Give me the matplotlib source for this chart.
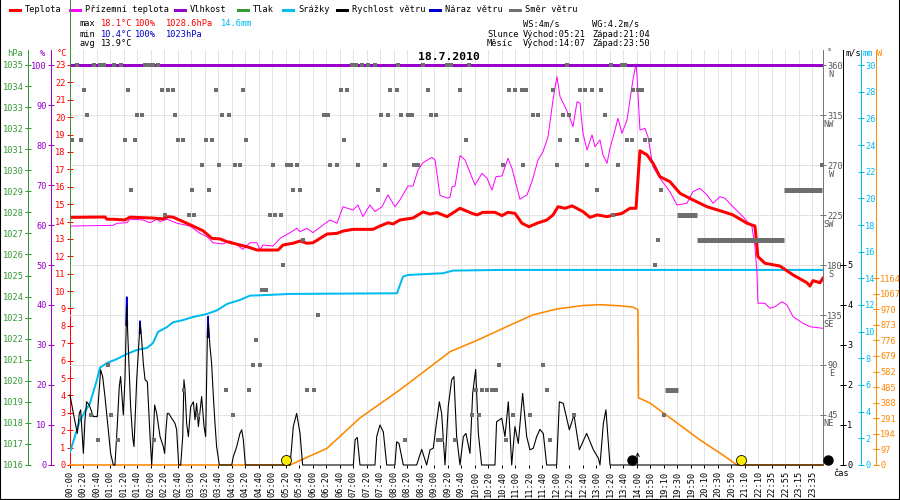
import matplotlib

matplotlib.use("Agg")
import matplotlib.pyplot as plt
from matplotlib import transforms
from matplotlib.lines import Line2D

plt.rcParams["font.family"] = ["DejaVu Sans Mono"]
plt.rcParams["font.size"] = 6.2

TEMP_RED = "#ff0000"
GROUND_MAGENTA = "#ff00ff"
HUMID_PURPLE = "#9900cc"
PRESS_GREEN = "#339933"
RAIN_CYAN = "#00bbee"
GUST_BLUE = "#0000cc"
DIR_GREY = "#6e6e6e"
SOLAR_ORANGE = "#ff8800"
GRID_GREY = "#e3e3e3"

# x is the position of a record on the (non linear) time axis, one unit per label
time_labels = [
    "00:00", "00:20", "00:40", "01:00", "01:20", "01:40", "02:00", "02:20",
    "02:40", "03:00", "03:20", "03:40", "04:00", "04:20", "04:40", "05:00",
    "05:20", "05:40", "06:00", "06:20", "06:40", "07:00", "07:20", "07:40",
    "08:00", "08:20", "08:40", "09:00", "09:20", "09:40", "10:00", "10:20",
    "10:40", "11:00", "11:20", "11:40", "12:00", "12:20", "12:40", "13:00",
    "13:20", "13:40", "14:00", "18:50", "19:10", "19:30", "19:50", "20:10",
    "20:30", "20:50", "21:10", "22:10", "22:35", "22:55", "23:15", "23:35",
]
x_end = 55.78

temp_times = [0.07, 2.59, 2.74, 3.19, 4.07, 4.44, 6.15, 6.89, 7.26, 7.63, 8.37, 9.11,
              9.85, 10.52, 11.11, 11.63, 12.59, 13.33, 13.85, 15.41, 15.78, 16.52,
              17.04, 17.56, 18.0, 19.04, 19.78, 20.22, 20.96, 22.44, 22.96, 23.56,
              23.93, 24.44, 25.41, 26.15, 26.67, 27.19, 27.93, 28.89, 29.78, 30.15,
              30.59, 31.48, 32.0, 32.44, 32.96, 33.48, 34.0, 34.59, 35.33, 35.78,
              36.15, 36.67, 37.19, 38.0, 38.52, 39.04, 39.78, 40.22, 40.89, 41.48,
              41.93, 42.07, 42.22, 42.74, 43.19, 43.7, 44.44, 45.19, 46.15, 47.19,
              48.37, 49.11, 50.15, 50.74, 50.96, 51.48, 52.59, 53.56, 54.59, 54.81,
              55.04, 55.56, 55.78]
temp_values = [14.24, 14.26, 14.13, 14.13, 14.09, 14.25, 14.2, 14.15, 14.28, 14.25, 14.0,
               13.74, 13.47, 13.03, 13.0, 12.84, 12.65, 12.5, 12.36, 12.36, 12.65, 12.75,
               12.88, 12.75, 12.78, 13.28, 13.32, 13.45, 13.55, 13.55, 13.74, 13.93,
               13.86, 14.09, 14.2, 14.55, 14.43, 14.51, 14.28, 14.76, 14.47, 14.38,
               14.53, 14.53, 14.34, 14.53, 14.47, 13.9, 13.7, 13.9, 14.09, 14.38,
               14.85, 14.76, 14.9, 14.57, 14.24, 14.38, 14.28, 14.36, 14.47, 14.76,
               14.76, 16.39, 18.07, 17.83, 17.35, 16.58, 16.29, 15.62, 15.24, 14.85,
               14.57, 14.38, 13.9, 13.74, 11.98, 11.6, 11.44, 10.93, 10.48, 10.29,
               10.6, 10.48, 10.75]

ground_times = [0.07, 3.19, 3.48, 4.22, 4.44, 5.41, 5.93, 6.44, 6.67, 7.19, 7.93, 8.89,
                9.63, 10.15, 10.59, 11.33, 11.85, 12.37, 12.81, 13.33, 13.85, 14.07,
                14.3, 15.04, 15.56, 16.3, 16.81, 17.04, 17.56, 18.0, 18.74, 19.26,
                19.78, 20.22, 20.96, 21.33, 21.7, 22.22, 22.59, 23.11, 23.56, 24.07,
                24.44, 25.04, 25.41, 25.78, 26.15, 26.81, 27.04, 27.41, 27.93, 28.15,
                28.3, 28.52, 28.89, 29.26, 30.0, 30.52, 30.89, 31.26, 31.56, 32.0,
                32.44, 32.74, 33.33, 33.85, 34.22, 34.67, 35.04, 35.41, 35.78, 36.07,
                36.3, 36.67, 37.04, 37.26, 37.56, 37.78, 38.0, 38.3, 38.67, 38.89,
                39.26, 39.48, 39.78, 40.0, 40.37, 40.59, 40.89, 41.26, 41.48, 41.7,
                41.93, 42.0, 42.22, 42.59, 42.81, 43.19, 43.7, 44.44, 44.96, 45.7,
                46.15, 46.67, 47.19, 47.63, 48.15, 48.52, 49.11, 49.85, 50.52, 50.74,
                50.89, 50.96, 51.48, 51.85, 52.22, 52.74, 53.11, 53.56, 54.3, 54.81,
                55.78]
ground_values = [13.74, 13.78, 13.9, 13.93, 14.13, 14.09, 13.93, 14.13, 14.0, 14.13,
                 13.9, 13.74, 13.32, 13.13, 12.78, 12.71, 12.88, 12.65, 12.4, 12.78,
                 12.78, 12.36, 12.65, 12.59, 13.03, 13.36, 13.61, 13.42, 13.61, 13.36,
                 13.8, 14.09, 13.9, 14.85, 14.66, 14.95, 14.28, 14.95, 14.57, 14.85,
                 15.53, 14.85, 15.24, 16.04, 16.04, 16.96, 17.38, 17.69, 17.54, 15.5,
                 15.35, 15.39, 16.0, 16.04, 17.79, 17.54, 16.1, 16.77, 16.49, 15.81,
                 16.58, 16.62, 17.64, 17.06, 15.28, 15.53, 16.29, 17.54, 18.02, 18.88,
                 20.99, 22.33, 21.18, 20.6, 19.94, 19.45, 20.89, 20.8, 19.07, 18.11,
                 18.98, 18.3, 18.69, 17.83, 17.35, 18.21, 19.26, 19.94, 19.07, 19.84,
                 20.99, 22.14, 23.06, 22.43, 19.26, 19.36, 18.88, 17.14, 16.49, 15.72,
                 14.95, 15.05, 15.72, 15.91, 15.53, 15.05, 15.43, 15.33, 14.85, 14.28,
                 13.7, 12.55, 11.02, 9.3, 9.3, 9.01, 9.1, 9.39, 9.2, 8.53, 8.15, 7.95,
                 7.86]

humidity_times = [0.0, x_end]
humidity_values = [100, 100]

# the pressure trace only shows as a vertical stroke on the first record
pressure_times = [0.0, 0.0]
pressure_values = [1023.5, 1038.1]

rain_times = [0.0, 0.74, 1.48, 2.0, 2.22, 2.74, 3.48, 4.22, 4.96, 5.7, 6.15, 6.52, 7.19,
              7.63, 8.37, 9.11, 10.15, 10.89, 11.63, 12.59, 13.33, 14.59, 16.3, 24.22,
              24.67, 25.04, 25.93, 27.63, 28.37, 31.85, x_end]
rain_mm = [0.97, 3.37, 4.63, 6.4, 7.3, 7.65, 7.95, 8.33, 8.63, 8.78, 9.15, 9.98, 10.35,
           10.7, 10.87, 11.1, 11.33, 11.6, 12.08, 12.38, 12.7, 12.75, 12.83, 12.88,
           14.13, 14.25, 14.3, 14.38, 14.58, 14.63, 14.63]

solar_times = [0.0, 16.3, 19.04, 21.48, 24.44, 28.15, 30.37, 32.37, 34.3, 36.07, 38.0,
               39.26, 40.74, 41.7, 42.07, 42.11, 42.96, 46.67, 48.37, 49.41, x_end]
solar_watts = [0, 0, 104, 293, 468, 705, 784, 862, 935, 971, 993, 998, 991, 983, 966,
               418, 386, 156, 62, 0, 0]

wind_times = [0.0, 0.25, 0.44, 0.54, 0.69, 0.79, 0.99, 1.11, 1.23, 1.43, 1.6, 1.73, 2.02,
              2.27, 2.42, 2.59, 2.84, 3.01, 3.21, 3.33, 3.51, 3.65, 3.75, 3.85, 3.95,
              4.07, 4.2, 4.35, 4.49, 4.64, 4.74, 4.84, 4.94, 5.09, 5.19, 5.31, 5.43,
              5.56, 5.73, 5.83, 5.93, 6.05, 6.17, 6.27, 6.42, 6.67, 6.91, 7.01, 7.11,
              7.21, 7.31, 7.53, 7.78, 7.9, 8.05, 8.2, 8.35, 8.44, 8.52, 8.64, 8.77,
              8.94, 9.14, 9.26, 9.38, 9.51, 9.75, 9.93, 10.05, 10.17, 10.25, 10.37,
              10.49, 10.62, 10.74, 10.86, 11.06, 11.98, 12.1, 12.35, 12.59, 12.72,
              12.84, 12.99, 16.3, 16.42, 16.54, 16.79, 17.04, 17.23, 20.99, 21.12,
              21.28, 21.48, 22.59, 22.72, 22.96, 23.21, 23.46, 24.07, 24.2, 24.37,
              24.69, 25.68, 26.05, 26.42, 26.67, 26.91, 27.11, 27.36, 27.53, 27.78,
              28.02, 28.27, 28.44, 28.64, 28.89, 29.14, 29.33, 29.63, 29.83, 30.05,
              30.25, 30.49, 31.48, 31.6, 31.98, 32.22, 32.47, 32.72, 32.96, 33.21,
              33.53, 33.83, 34.07, 34.32, 34.57, 34.81, 35.06, 35.31, 36.05, 36.25,
              36.54, 36.99, 37.33, 37.73, 38.27, 38.77, 39.14, 39.26, 39.51, 39.7,
              40.0, x_end]
wind_speeds = [1.75, 1.29, 0.96, 0.79, 1.29, 1.38, 0.29, 1.13, 1.58, 1.5, 1.33, 1.21,
               1.21, 2.38, 2.21, 1.71, 0.88, 0.29, 0.0, 0.0, 1.04, 1.96, 2.21, 1.71,
               1.25, 2.13, 3.96, 2.63, 1.46, 0.71, 0.46, 1.29, 2.13, 2.96, 3.54, 3.13,
               2.54, 2.13, 2.08, 1.38, 0.71, 0.0, 0.71, 1.5, 1.29, 0.71, 0.46, 0.29,
               0.88, 1.29, 1.29, 1.17, 1.04, 0.88, 0.0, 0.0, 0.71, 2.13, 1.88, 1.04,
               0.71, 1.46, 1.58, 1.13, 1.54, 0.96, 1.71, 0.96, 0.71, 3.13, 3.54, 2.96,
               2.54, 1.71, 1.04, 0.46, 0.0, 0.0, 0.21, 0.46, 0.79, 0.88, 0.63, 0.0,
               0.0, 0.46, 0.96, 1.29, 0.79, 0.0, 0.0, 0.63, 0.69, 0.0, 0.0, 0.71, 1.0,
               0.83, 0.0, 0.0, 0.58, 0.54, 0.0, 0.0, 0.39, 0.0, 0.38, 0.42, 0.96, 1.58,
               1.29, 0.0, 1.46, 2.13, 2.21, 0.71, 0.0, 0.71, 0.79, 0.29, 1.79, 2.39,
               0.79, 0.0, 0.0, 1.08, 1.17, 0.71, 1.58, 0.0, 0.96, 0.54, 1.79, 0.71,
               0.38, 0.42, 0.71, 0.89, 0.79, 0.0, 0.0, 1.58, 1.54, 0.88, 1.25, 0.38,
               0.79, 0.38, 0.17, 0.0, 1.04, 1.38, 0.0, 0.0]

nan = float("nan")
gust_times = [4.15, 4.2, 4.25, nan, 5.15, 5.19, 5.24, nan, 10.18, 10.23, 10.28]
gust_speeds = [3.5, 4.2, 3.5, nan, 3.3, 3.6, 3.3, nan, 3.2, 3.71, 3.2]

direction_levels = [360, 337.5, 315, 292.5, 270, 247.5, 225, 202.5, 180, 157.5, 135,
                    112.5, 90, 67.5, 45, 22.5]
direction_samples = [
    [0.5, 1.78, 2.22, 2.52, 3.26, 3.78, 5.56, 5.85, 6.15, 6.52, 20.89, 21.19, 21.63,
     22.07, 22.59, 24.3, 26.15, 27.93, 28.22, 29.56, 36.81, 40.07, 40.89, 41.11],
    [1.04, 4.3, 6.81, 7.26, 7.63, 10.81, 12.81, 20.07, 20.52, 23.7, 24.22, 26.52, 28.89,
     32.52, 32.96, 33.48, 33.78, 35.78, 37.78, 38.15, 38.67, 39.33, 41.7, 42.07, 42.37],
    [1.26, 4.96, 5.33, 7.78, 11.26, 11.78, 18.81, 19.11, 23.04, 23.56, 24.52, 25.04,
     25.33, 26.74, 27.11, 34.3, 34.67, 36.52, 36.96, 39.63],
    [0.12, 0.81, 4.07, 4.81, 8.0, 8.37, 10.05, 10.52, 13.04, 20.3, 29.33, 36.3, 37.56,
     41.26, 41.63, 42.59, 42.96],
    [9.78, 11.04, 12.22, 12.59, 15.04, 16.07, 16.37, 16.81, 19.26, 19.78, 21.33, 23.33,
     25.48, 25.78, 32.07, 33.56, 36.07, 38.3, 40.59, 55.7],
    [4.52, 9.04, 10.3, 16.52, 17.04, 22.81, 39.04, 43.78],
    [7.04, 8.81, 9.2, 14.81, 15.19, 15.63, 40.22],
    [17.24, 43.56],
    [15.75, 43.33],
    [14.22, 14.52],
    [18.37],
    [13.78],
    [2.81, 13.56, 14.07, 31.78, 35.04],
    [8.44, 11.56, 13.26, 17.56, 18.1, 30.07, 30.52, 30.89, 31.26, 31.56, 35.31],
    [1.56, 3.04, 9.48, 12.07, 29.75, 30.3, 32.79, 34.07, 37.33, 44.0],
    [2.07, 3.56, 6.22, 24.81, 27.26, 27.56, 28.52, 32.3, 35.56],
]
# stretches where the vane did not move
direction_run_starts = [44.07, 45.0, 46.44, 52.89]
direction_run_ends = [45.04, 46.44, 52.89, 55.7]
direction_run_degrees = [67.5, 225, 202.5, 247.5]

compass_names = {45: "NE", 90: "E", 135: "SE", 180: "S", 225: "SW", 270: "W",
                 315: "NW", 360: "N"}

sun_events = [16.0, 49.7]
moon_events = [41.6, 56.15]
moonrise_arrow = 42.05

# plot frame: 900x500 px, data area from y=50 to y=465, scale tops at y=65
W_PX, H_PX = 900, 500
STRETCH = 415 / 400


def px(x, y):
    return x / W_PX, 1 - y / H_PX


def pt(pixels):
    return pixels * 0.72


fig = plt.figure(figsize=(9, 5), dpi=100)
fig.patch.set_facecolor("white")

ax = fig.add_axes([70 / W_PX, 35 / H_PX, 753 / W_PX, 415 / H_PX])
ax.set_zorder(0)
ax.set_xlim(0, x_end)
ax.set_ylim(0, 23 * STRETCH)
for side in ("top", "right", "bottom"):
    ax.spines[side].set_visible(False)
ax.spines["left"].set_color(TEMP_RED)
ax.spines["left"].set_linewidth(pt(1))
ax.set_yticks(range(0, 24))
ax.tick_params(axis="y", colors=TEMP_RED, direction="inout", length=pt(6),
               width=pt(1), pad=1)
ax.set_xticks(range(len(time_labels)))
ax.set_xticklabels(time_labels, rotation=90)
ax.tick_params(axis="x", direction="out", length=pt(3), width=pt(1), pad=2)
ax.grid(axis="x", color=GRID_GREY, linewidth=pt(1))


def twin(zorder, bottom, top):
    other = ax.twinx()
    other.set_zorder(zorder)
    other.set_ylim(bottom, top)
    other.patch.set_visible(False)
    for spine in other.spines.values():
        spine.set_visible(False)
    return other


def show_axis(other, side, offset, color, ticks):
    spine = other.spines[side]
    spine.set_visible(True)
    spine.set_position(("outward", pt(offset)))
    spine.set_color(color)
    spine.set_linewidth(pt(1))
    if side == "left":
        other.yaxis.tick_left()
    other.set_yticks(ticks)
    other.tick_params(axis="y", colors=color, direction="inout", length=pt(6),
                      width=pt(1), pad=1)


ax_dir = twin(0.5, 0, 360 * STRETCH)
show_axis(ax_dir, "right", 0, "#777777", list(compass_names))
ax_dir.tick_params(axis="y", labelcolor="#555555")
ax_dir.grid(axis="y", color=GRID_GREY, linewidth=pt(1))
letter_shift = transforms.offset_copy(
    transforms.blended_transform_factory(ax_dir.transAxes, ax_dir.transData),
    fig=fig, x=pt(11), y=pt(-9), units="points")
for degree, name in compass_names.items():
    ax_dir.text(1.0, degree, name, transform=letter_shift, ha="right", va="center",
                color="#555555")

ax_mm = twin(1, 0, 30 * STRETCH)
show_axis(ax_mm, "right", 38, RAIN_CYAN, range(0, 31, 2))
ax_mm.plot(rain_times, rain_mm, color=RAIN_CYAN, linewidth=pt(2))

ax_w = twin(1.5, 0, 1164 * 415 / 187)
show_axis(ax_w, "right", 53, SOLAR_ORANGE, range(0, 1165, 97))
ax_w.plot(solar_times, solar_watts, color=SOLAR_ORANGE, linewidth=pt(1.6),
          clip_on=False)

ax_ms = twin(2, 0, 10 * STRETCH)
show_axis(ax_ms, "right", 20, "black", range(0, 6))
ax_ms.plot(gust_times, gust_speeds, color=GUST_BLUE, linewidth=pt(1.6))
ax_ms.plot(wind_times, wind_speeds, color="black", linewidth=pt(1.1), clip_on=False)
lifted = transforms.offset_copy(ax_ms.transData, fig=fig, y=pt(5), units="points")
ax_ms.plot(sun_events, [0] * len(sun_events), "o", color="#ffee00",
           markeredgecolor="black", markeredgewidth=0.6, markersize=pt(10),
           transform=lifted, clip_on=False)
ax_ms.plot(moon_events, [0] * len(moon_events), "o", color="black",
           markersize=pt(9), transform=lifted, clip_on=False)
ax_ms.annotate("", xy=(moonrise_arrow, 0.32), xytext=(moonrise_arrow, 0),
               arrowprops=dict(arrowstyle="->", lw=0.6, color="black",
                               shrinkA=0, shrinkB=0))

ax_tt = twin(3, 0, 23 * STRETCH)
ax_tt.yaxis.set_visible(False)
ax_tt.plot(ground_times, ground_values, color=GROUND_MAGENTA, linewidth=pt(1))
ax_tt.plot(temp_times, temp_values, color=TEMP_RED, linewidth=pt(3))

ax_h = twin(4, 0, 100 * STRETCH)
show_axis(ax_h, "left", 19, HUMID_PURPLE, range(0, 101, 10))
ax_h.plot(humidity_times, humidity_values, color=HUMID_PURPLE, linewidth=pt(3))

ax_p = twin(4.5, 1016, 1016 + 19 * STRETCH)
show_axis(ax_p, "left", 42, PRESS_GREEN, range(1016, 1036))
ax_p.plot(pressure_times, pressure_values, color=PRESS_GREEN, linewidth=pt(1),
          clip_on=False)

ax_top = twin(6, 0, 360 * STRETCH)
ax_top.yaxis.set_visible(False)
for level, samples in zip(direction_levels, direction_samples):
    ax_top.plot(samples, [level] * len(samples), "s", color=DIR_GREY,
                markersize=pt(5), markeredgewidth=0, clip_on=False)
ax_top.hlines(direction_run_degrees, direction_run_starts, direction_run_ends,
              color=DIR_GREY, linewidth=pt(5))

# axis headers
headers = [("hPa", 15, PRESS_GREEN), ("%", 42, HUMID_PURPLE), ("°C", 62, TEMP_RED),
           ("°", 829, "#555555"), ("m/s", 853, "black"), ("mm", 868, RAIN_CYAN),
           ("W", 880, SOLAR_ORANGE)]
for text, x, color in headers:
    fig.text(*px(x, 53), text, color=color, ha="center", va="center")
fig.text(*px(833, 474), "čas", ha="left", va="center")

# legend row
legend_items = [("Teplota", TEMP_RED, 10), ("Přízemní teplota", GROUND_MAGENTA, 70),
                ("Vlhkost", HUMID_PURPLE, 175), ("Tlak", PRESS_GREEN, 238),
                ("Srážky", RAIN_CYAN, 283), ("Rychlost větru", "black", 337),
                ("Náraz větru", GUST_BLUE, 430), ("Směr větru", DIR_GREY, 510)]
for label, color, x in legend_items:
    (x0, y0), (x1, _) = px(x, 9.5), px(x + 10, 9.5)
    fig.add_artist(Line2D([x0, x1], [y0, y0], color=color, linewidth=pt(3)))
    fig.text(*px(x + 15, 9.5), label, ha="left", va="center")

stats_rows = [
    (24, [("max", 80, "black"), ("18.1°C", 101, TEMP_RED), ("100%", 135, TEMP_RED),
          ("1028.6hPa", 166, TEMP_RED), ("14.6mm", 221, RAIN_CYAN)]),
    (34, [("min", 80, "black"), ("10.4°C", 101, GUST_BLUE), ("100%", 135, GUST_BLUE),
          ("1023hPa", 166, GUST_BLUE)]),
    (44, [("avg", 80, "black"), ("13.9°C", 101, "black")]),
    (24, [("WS:4m/s", 523, "black"), ("WG:4.2m/s", 592, "black")]),
    (34, [("Slunce", 487, "black"), ("Východ:05:21", 523, "black"),
          ("Západ:21:04", 592, "black")]),
    (44, [("Měsíc", 487, "black"), ("Východ:14:07", 523, "black"),
          ("Západ:23:50", 592, "black")]),
]
for y, parts in stats_rows:
    for text, x, color in parts:
        fig.text(*px(x, y), text, color=color, ha="left", va="center")

fig.text(*px(449, 57), "18.7.2010", ha="center", va="center", fontsize=8.2,
         fontweight="bold")

# image frame
for xs, ys in (([0, 0], [0, 1]), ([0, 1], [0, 0]), ([1, 1], [0, 1])):
    fig.add_artist(Line2D(xs, ys, color="black", linewidth=1.5))

fig.savefig("out.png", dpi=100)
